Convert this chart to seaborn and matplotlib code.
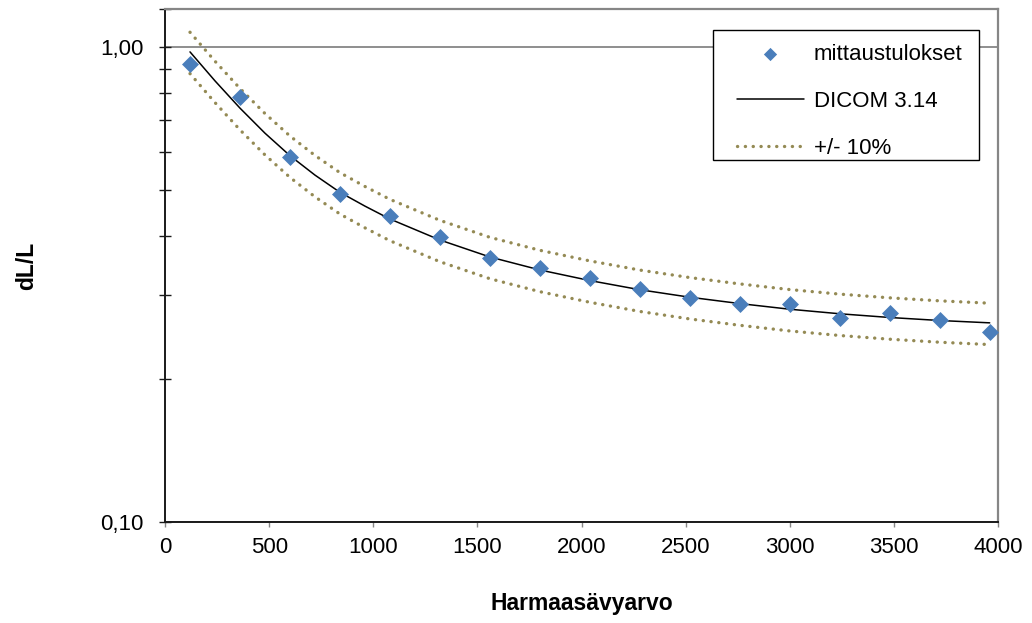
import matplotlib
matplotlib.use("Agg")
import matplotlib.pyplot as plt
from matplotlib.patches import Rectangle
from matplotlib.ticker import FixedLocator, NullFormatter, FuncFormatter
import pandas as pd
import seaborn as sns

# Measured relative luminance steps per grey level
gray_levels = [120, 360, 600, 840, 1080, 1320, 1560, 1800, 2040, 2280,
               2520, 2760, 3000, 3240, 3480, 3720, 3960]
measured = [0.920, 0.785, 0.585, 0.490, 0.440, 0.397, 0.3585, 0.3415, 0.3254,
            0.3094, 0.2954, 0.2880, 0.2869, 0.2688, 0.2746, 0.2659, 0.2512]

# DICOM PS 3.14 reference curve
dicom_levels = [120, 240, 360, 480, 600, 720, 840, 960, 1080, 1320, 1560,
                1800, 2040, 2280, 2520, 2760, 3000, 3240, 3480, 3720, 3960]
dicom_ref = [0.976, 0.848, 0.743, 0.658, 0.590, 0.537, 0.494, 0.462, 0.434,
             0.392, 0.361, 0.339, 0.322, 0.308, 0.297, 0.288, 0.2802, 0.2741,
             0.2692, 0.2653, 0.2623]
tolerance = 0.10

x_ticks = [0, 500, 1000, 1500, 2000, 2500, 3000, 3500, 4000]
y_major = [0.1, 1.0]
y_minor = [0.2, 0.3, 0.4, 0.5, 0.6, 0.7, 0.8, 0.9, 1.2]

meas_df = pd.DataFrame({"x": gray_levels, "y": measured})
ref_df = pd.DataFrame({"x": dicom_levels, "y": dicom_ref})
ref_df["hi"] = ref_df["y"] * (1 + tolerance)
ref_df["lo"] = ref_df["y"] * (1 - tolerance)

sns.set_theme(style="white")
plt.rcParams["font.family"] = ["Liberation Sans", "DejaVu Sans"]
plt.rcParams["text.color"] = "black"

BLUE = "#4A7EBB"
OLIVE = "#948A54"
GRID = "#868686"

fig = plt.figure(figsize=(10.32, 6.23), dpi=100)
ax = fig.add_axes([0.1599, 0.1626, 0.8072, 0.8225])

dot = (0, (0.05, 2.3))
sns.lineplot(data=ref_df, x="x", y="hi", ax=ax, color=OLIVE, lw=2.4,
             linestyle=dot, dash_capstyle="round", label="+/- 10%", zorder=2)
sns.lineplot(data=ref_df, x="x", y="lo", ax=ax, color=OLIVE, lw=2.4,
             linestyle=dot, dash_capstyle="round", label="_nolegend_", zorder=2)
sns.lineplot(data=ref_df, x="x", y="y", ax=ax, color="black", lw=1.1,
             label="DICOM 3.14", zorder=3)
sns.scatterplot(data=meas_df, x="x", y="y", ax=ax, marker="D", s=75,
                color=BLUE, linewidth=0, label="mittaustulokset", zorder=4)

ax.set_yscale("log")
ax.set_ylim(0.1, 1.2)
ax.set_xlim(0, 4000)
ax.set_xticks(x_ticks)
ax.set_xticklabels([str(v) for v in x_ticks])
ax.yaxis.set_major_locator(FixedLocator(y_major))
ax.yaxis.set_major_formatter(FuncFormatter(lambda v, p: f"{v:.2f}".replace(".", ",")))
ax.yaxis.set_minor_locator(FixedLocator(y_minor))
ax.yaxis.set_minor_formatter(NullFormatter())

ax.set_axisbelow(True)
ax.yaxis.grid(True, which="major", color=GRID, lw=1.3)
ax.xaxis.grid(False)

for side in ("left", "bottom"):
    ax.spines[side].set_color("#1a1a1a")
    ax.spines[side].set_linewidth(1.4)
for side in ("right", "top"):
    ax.spines[side].set_color(GRID)
    ax.spines[side].set_linewidth(1.6)

ax.tick_params(axis="y", which="both", direction="inout", length=8, width=1,
               color="#1a1a1a", left=True, labelsize=16, pad=11.5,
               labelcolor="black")
ax.tick_params(axis="x", which="major", direction="out", length=3.6, width=1,
               color=GRID, bottom=True, labelsize=16, pad=7.5,
               labelcolor="black")

ax.set_xlabel("Harmaasävyarvo", fontsize=16.5, fontweight="bold", color="black")
ax.set_ylabel("dL/L", fontsize=16.5, fontweight="bold", color="black")
ax.xaxis.set_label_coords(0.5, -0.137)
ax.yaxis.set_label_coords(-0.152, 0.5)

# Legend box: wider side padding than top/bottom, so the frame is drawn separately
box = Rectangle((0.6579, 0.7059), 0.9772 - 0.6579, 0.9596 - 0.7059,
                transform=ax.transAxes, facecolor="white", edgecolor="black",
                lw=1.0, zorder=4.5)
ax.add_patch(box)

handles, labels = ax.get_legend_handles_labels()
order = [labels.index(n) for n in ["mittaustulokset", "DICOM 3.14", "+/- 10%"]]
leg = ax.legend([handles[i] for i in order], [labels[i] for i in order],
                loc="upper left", bbox_to_anchor=(0.6867, 0.933),
                borderaxespad=0, borderpad=0, fontsize=16, frameon=False,
                labelspacing=1.17, handlelength=3.0, handletextpad=0.45,
                markerscale=0.78, labelcolor="black")
leg.set_zorder(5)

fig.savefig("out.png", dpi=100, facecolor="white")
